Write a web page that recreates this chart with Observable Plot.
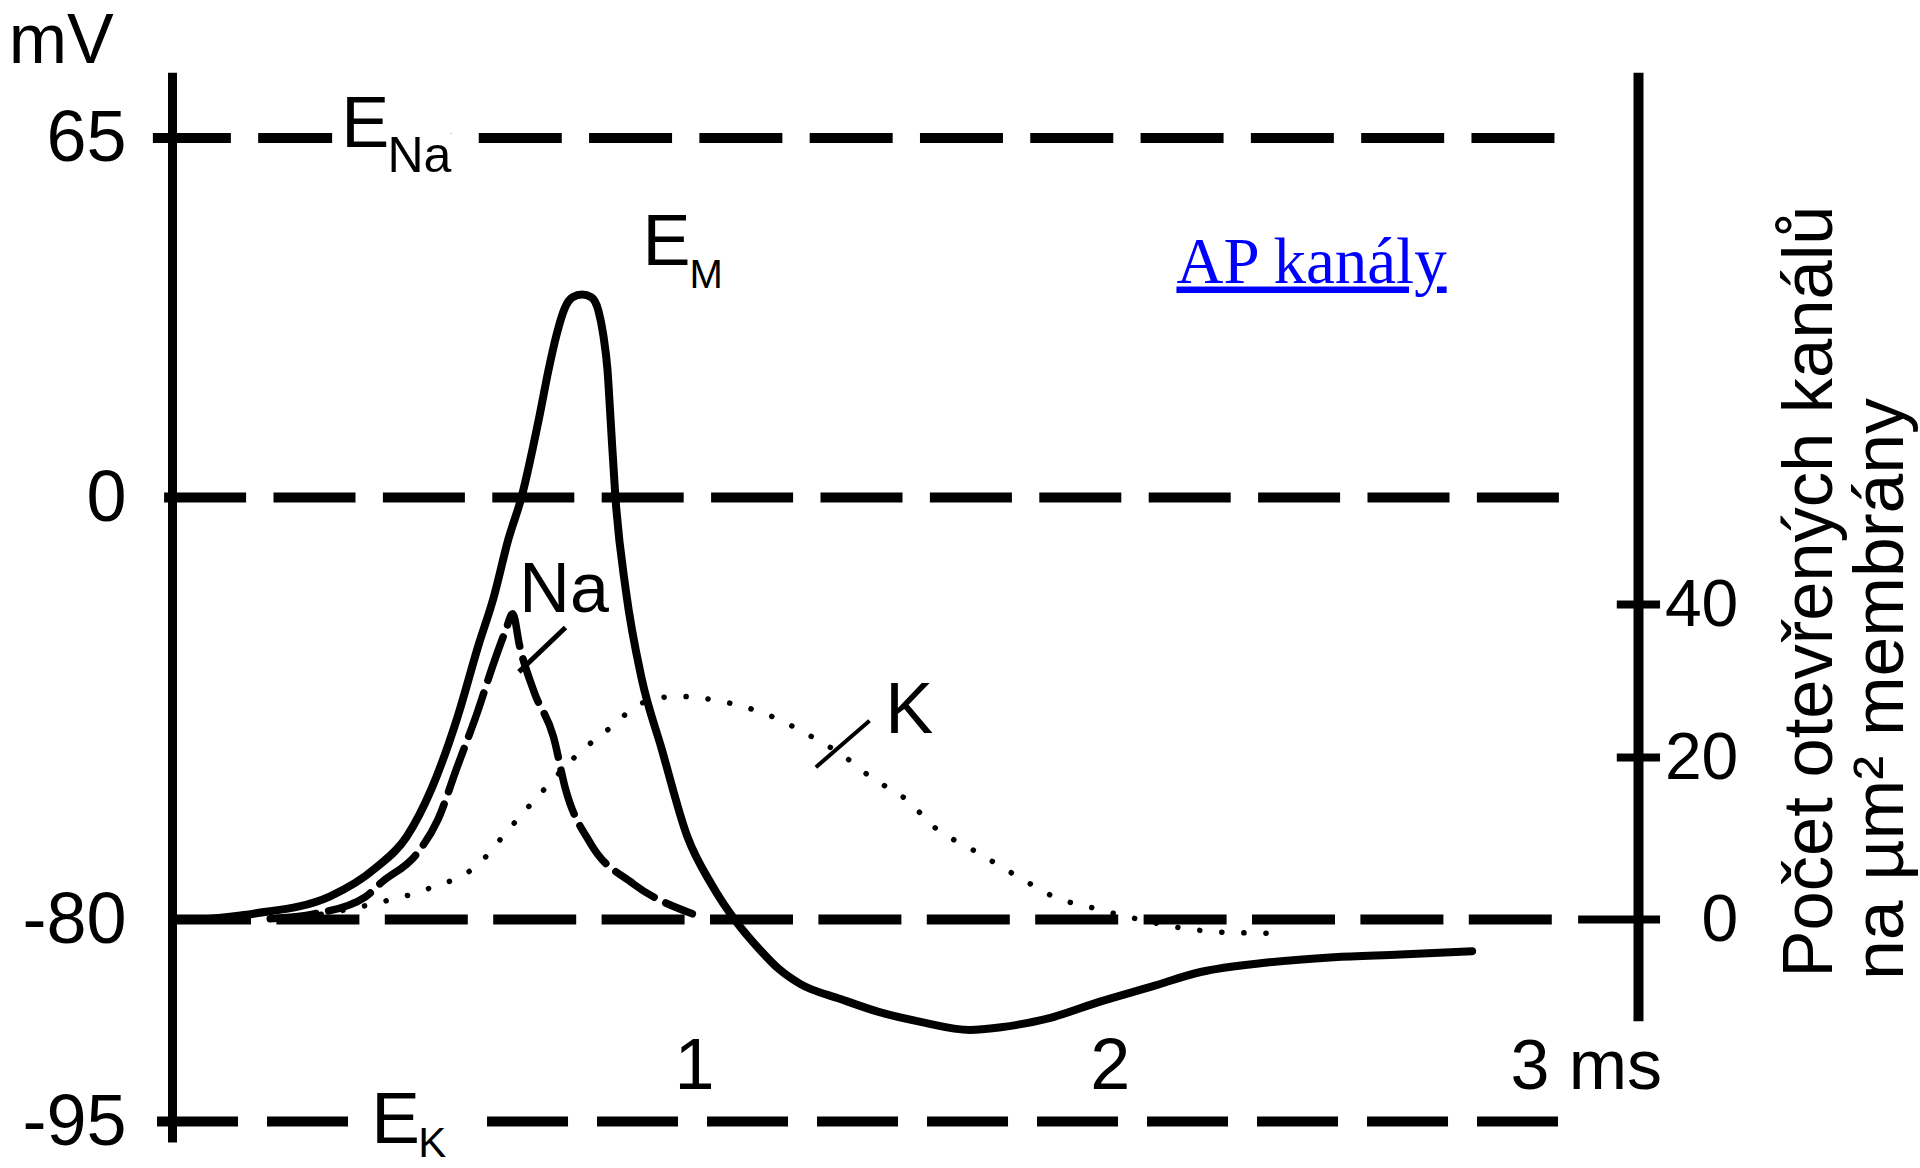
<!DOCTYPE html>
<html>
<head>
<meta charset="utf-8">
<script src="https://cdn.jsdelivr.net/npm/d3@7"></script>
<script src="https://cdn.jsdelivr.net/npm/@observablehq/plot@0.6"></script>
<style>
  html, body { margin: 0; padding: 0; background: #ffffff; }
  #chart svg { display: block; }
</style>
</head>
<body>
<div id="chart"></div>
<script>
// ---------------- DATA ----------------
// Membrane potential E_M (time in ms, potential in mV)
const emTime = [-0.183, -0.060, 0.124, 0.234, 0.308, 0.369, 0.430, 0.480, 0.517, 0.553, 0.584, 0.627,
                0.649, 0.668, 0.688, 0.707, 0.730, 0.752, 0.769, 0.781, 0.791, 0.798, 0.810, 0.835,
                0.873, 0.921, 0.983, 1.043, 1.099, 1.159, 1.204, 1.255, 1.351, 1.447, 1.544, 1.663,
                1.737, 1.856, 1.975, 2.097, 2.217, 2.377, 2.537, 2.698, 2.870];
const emMv   = [-80.0, -78.9, -75.6, -70.2, -64.3, -55.0, -41.7, -28.2, -19.0, -7.8, 0.0, 14.6,
                23.0, 29.3, 34.2, 36.2, 36.7, 36.2, 33.8, 29.3, 23.0, 14.6, 0.0, -17.6,
                -34.3, -47.6, -64.3, -73.6, -80.1, -82.3, -83.7, -84.8, -85.9, -86.9, -87.6, -88.2,
                -88.0, -87.3, -86.1, -85.0, -83.9, -83.2, -82.8, -82.6, -82.35];

// Open Na channels per µm² (right axis)
const naTime  = [-0.02, 0.086, 0.209, 0.248, 0.332, 0.382, 0.430, 0.478, 0.517, 0.546, 0.563,
                 0.580, 0.615, 0.661, 0.690, 0.750, 0.853, 0.995];
const naCount = [0.1, 0.7, 2.8, 4.6, 8.1, 12.2, 18.9, 25.9, 32.3, 36.6, 38.8,
                 34.5, 28.5, 22.7, 16.1, 9.4, 4.4, 0.7];

// Open K channels per µm² (right axis)
const kTime  = [0.05, 0.234, 0.357, 0.480, 0.553, 0.627, 0.725, 0.798, 0.873, 0.958, 1.068, 1.166,
                1.302, 1.351, 1.426, 1.512, 1.577, 1.673, 1.781, 1.867, 1.963, 2.060, 2.178, 2.285, 2.404];
const kCount = [0.2, 2.0, 3.75, 6.8, 11.1, 15.4, 20.7, 23.9, 27.1, 28.0, 27.3, 25.8,
                22.1, 20.5, 17.5, 14.7, 11.4, 8.5, 5.2, 2.75, 1.36, 0.12, -1.1, -1.6, -1.7];

// Reference potentials (dashed lines) and axis ticks
const levels      = [65, 0, -80, -95];
const leftTicks   = [65, 0, -80, -95];
const rightTicks  = [0, 20, 40];
const timeTicks   = [1, 2];
const lastTick    = 3;
const lastTickLabel = "3 ms";
const yUnit = "mV";
const titleLines = ["Počet otevřených kanálů", "na µm² membrány"];
const linkText = "AP kanály";

// ---------------- LAYOUT ----------------
const mvDomain = [-95, -80, 0, 65];
const mvRange  = [1121, 919, 497, 137.5];
const countDomain = [0, 20, 40];
const countRange  = [919, 757, 604];
const xDomain = [-0.255, 3.27];
const xRange  = [172, 1638];

const yPx = d3.scaleLinear(mvDomain, mvRange);
const cPx = d3.scaleLinear(countDomain, countRange);
const mvOfCount = c => yPx.invert(cPx(c));

const em = emTime.map((t, i) => ({t, v: emMv[i]}));
const na = naTime.map((t, i) => ({t, v: mvOfCount(naCount[i])}));
const kk = kTime.map((t, i) => ({t, v: mvOfCount(kCount[i])}));

// per-level dashed line layout: start (ms), dash offset, dash pattern
const lineLayout = {
  "65":  {x1: -0.301, off: 5, dash: "83,27.3"},
  "0":   {x1: -0.274, off: 0, dash: "82,27.4"},
  "-80": {x1: -0.255, off: 4, dash: "83,25.4"},
  "-95": {x1: -0.291, off: 0, dash: "81,29"}
};
const LINE_END = 3.09;
const AXIS_L = -0.255, AXIS_R = 3.27;
const FONT = "Liberation Sans, Arial, Helvetica, sans-serif";

const lineMarks = levels.map(v => Plot.ruleY([v], {
  x1: lineLayout[String(v)].x1, x2: LINE_END,
  stroke: "black", strokeWidth: 10,
  strokeDasharray: lineLayout[String(v)].dash,
  strokeDashoffset: lineLayout[String(v)].off
}));

// potential labels that interrupt the dashed lines: E_Na, E_K
const potLabels = [
  {s: "E",  x: 0.151, y: 63.3,   size: 72, halo: 30},
  {s: "Na", x: 0.262, y: 58.8,   size: 50, halo: 30},
  {s: "E",  x: 0.223, y: -96.63, size: 73, halo: 30},
  {s: "K",  x: 0.336, y: -97.6,  size: 42, halo: 40}
];
const haloMarks = potLabels.map(d => Plot.text([d.s], {x: d.x, y: d.y, text: v => v,
  textAnchor: "start", lineAnchor: "bottom", fontSize: d.size, fontFamily: FONT,
  fill: "white", stroke: "white", strokeWidth: d.halo, strokeLinejoin: "round"}));
const inkMarks = potLabels.map(d => Plot.text([d.s], {x: d.x, y: d.y, text: v => v,
  textAnchor: "start", lineAnchor: "bottom", fontSize: d.size, fontFamily: FONT, fill: "black"}));

const chart = Plot.plot({
  width: 1920,
  height: 1168,
  marginLeft: 172, marginRight: 282, marginTop: 73, marginBottom: 25,
  x: {domain: xDomain, range: xRange, axis: null},
  y: {type: "linear", domain: mvDomain, range: mvRange, axis: null},
  style: {background: "white", fontFamily: FONT},
  marks: [
    ...lineMarks,
    ...haloMarks,
    ...inkMarks,
    // axes
    Plot.ruleX([AXIS_L], {y1: -96.6, y2: 76.7, stroke: "black", strokeWidth: 9}),
    Plot.ruleX([AXIS_R], {y1: -87.6, y2: 76.7, stroke: "black", strokeWidth: 10}),
    Plot.ruleY(rightTicks, {y: d => mvOfCount(d), x1: d => d === 0 ? 3.126 : 3.219, x2: 3.323,
      stroke: "black", strokeWidth: 8}),
    // left tick labels
    Plot.text(leftTicks, {x: AXIS_L, y: d => d, text: d => String(d), textAnchor: "end", dx: -46,
      fontSize: 72, fontFamily: FONT, fill: "black"}),
    // right tick labels
    Plot.text(rightTicks, {x: 3.51, y: d => mvOfCount(d), text: d => String(d), textAnchor: "end",
      fontSize: 66, fontFamily: FONT, fill: "black"}),
    // time tick labels
    Plot.text(timeTicks, {x: d => d, y: -92.55, text: d => String(d), lineAnchor: "bottom",
      fontSize: 72, fontFamily: FONT, fill: "black"}),
    Plot.text([lastTick], {x: d => d - 0.038, y: -92.55, text: [lastTickLabel], textAnchor: "start",
      lineAnchor: "bottom", fontSize: 70, fontFamily: FONT, fill: "black"}),
    // unit label
    Plot.text([yUnit], {x: -0.649, y: 78.5, text: d => d, textAnchor: "start", lineAnchor: "bottom",
      fontSize: 70, fontFamily: FONT, fill: "black"}),
    // E_M label
    Plot.text(["E"], {x: 0.875, y: 41.95, text: d => d, textAnchor: "start", lineAnchor: "bottom",
      fontSize: 72, fontFamily: FONT, fill: "black"}),
    Plot.text(["M"], {x: 0.988, y: 37.8, text: d => d, textAnchor: "start", lineAnchor: "bottom",
      fontSize: 40, fontFamily: FONT, fill: "black"}),
    // curves
    Plot.line(kk, {x: "t", y: "v", stroke: "black", strokeWidth: 5.5, strokeDasharray: "0.1,22",
      strokeLinecap: "round", curve: "monotone-x"}),
    Plot.line(na, {x: "t", y: "v", stroke: "black", strokeWidth: 7.5, strokeDasharray: "46,13",
      curve: "monotone-x"}),
    Plot.line(em, {x: "t", y: "v", stroke: "black", strokeWidth: 8, strokeLinejoin: "round",
      strokeLinecap: "round", curve: "monotone-x"}),
    // curve labels and leader strokes
    Plot.text(["Na"], {x: 0.579, y: -21.8, text: d => d, textAnchor: "start", lineAnchor: "bottom",
      fontSize: 70, fontFamily: FONT, fill: "black"}),
    Plot.link([{a: 0.578, b: mvOfCount(31.2), c: 0.690, d: mvOfCount(37.0)}],
      {x1: "a", y1: "b", x2: "c", y2: "d", stroke: "black", strokeWidth: 5}),
    Plot.text(["K"], {x: 1.459, y: -44.55, text: d => d, textAnchor: "start", lineAnchor: "bottom",
      fontSize: 72, fontFamily: FONT, fill: "black"}),
    Plot.link([{a: 1.292, b: mvOfCount(18.8), c: 1.421, d: mvOfCount(24.8)}],
      {x1: "a", y1: "b", x2: "c", y2: "d", stroke: "black", strokeWidth: 4}),
    // link text
    Plot.text([linkText], {x: 2.159, y: 38.87, text: d => d, textAnchor: "start", lineAnchor: "bottom",
      fontSize: 65, fontFamily: "Liberation Serif, Times New Roman, serif", fill: "#0000ff"}),
    // right rotated title
    Plot.text([titleLines[0]], {x: 3.736, y: -84.3, text: d => d, rotate: -90, textAnchor: "start",
      lineAnchor: "bottom", fontSize: 71, fontFamily: FONT, fill: "black"}),
    Plot.text([titleLines[1]], {x: 3.907, y: -84.5, text: d => d, rotate: -90, textAnchor: "start",
      lineAnchor: "bottom", fontSize: 71, fontFamily: FONT, fill: "black"})
  ]
});

document.getElementById("chart").appendChild(chart);

// fine styling of a few texts
d3.select(chart).selectAll("text").each(function() {
  const s = this.textContent;
  if (s === linkText) {
    this.style.textDecoration = "underline";
  } else if (s === titleLines[0]) {
    this.setAttribute("textLength", 772);
    this.setAttribute("lengthAdjust", "spacingAndGlyphs");
  } else if (s === titleLines[1]) {
    this.setAttribute("textLength", 582);
    this.setAttribute("lengthAdjust", "spacingAndGlyphs");
  }
});
</script>
</body>
</html>
